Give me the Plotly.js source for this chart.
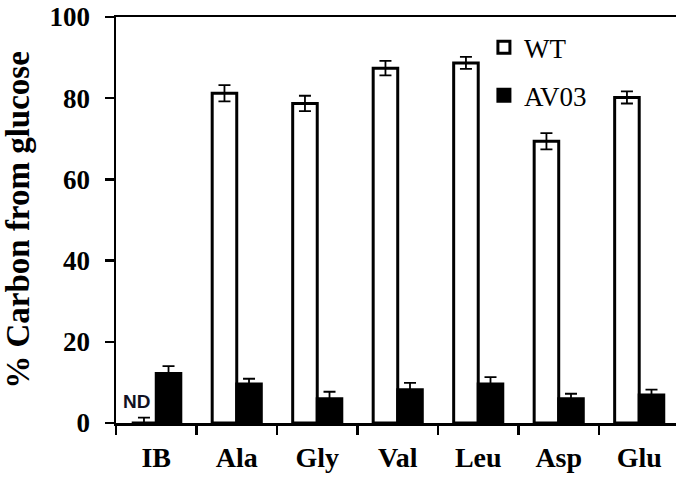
<!DOCTYPE html>
<html>
<head>
<meta charset="utf-8">
<script src="https://cdn.plot.ly/plotly-3.0.1.min.js"></script>
<style>html,body{margin:0;padding:0;background:#fff;}#chart{width:676px;height:477px;}</style>
</head>
<body>
<div id="chart"></div>
<script>
const categories = ["IB", "Ala", "Gly", "Val", "Leu", "Asp", "Glu"];
const wtValues = [0, 81.2, 78.7, 87.4, 88.7, 69.4, 80.2];
const wtErrors = [1.3, 2.0, 1.9, 1.8, 1.5, 2.0, 1.5];
const av03Values = [12.2, 9.6, 6.0, 8.2, 9.6, 6.0, 6.9];
const av03Errors = [1.8, 1.3, 1.7, 1.7, 1.7, 1.2, 1.3];
const yTicks = [0, 20, 40, 60, 80, 100];

const serif = "Liberation Serif";

const traces = [
  {
    type: "bar", name: "WT", x: categories, y: wtValues,
    legendgroup: "a",
    marker: {color: "#ffffff", line: {color: "#000000", width: 3}},
    error_y: {type: "data", array: wtErrors, visible: true, color: "#000000", thickness: 1.8, width: 6}
  },
  {
    type: "bar", name: "AV03", x: categories, y: av03Values,
    legendgroup: "b",
    marker: {color: "#000000", line: {color: "#000000", width: 3}},
    error_y: {type: "data", array: av03Errors, visible: true, color: "#000000", thickness: 1.8, width: 6}
  }
];

const layout = {
  width: 676, height: 477,
  margin: {l: 116, r: 0, t: 17, b: 54},
  paper_bgcolor: "#ffffff", plot_bgcolor: "#ffffff",
  font: {family: serif, color: "#000000"},
  barmode: "group", bargap: 0.39, bargroupgap: 0,
  showlegend: true,
  legend: {
    x: 0.657, y: 0.985, xanchor: "left", yanchor: "top",
    bgcolor: "rgba(0,0,0,0)", traceorder: "grouped", tracegroupgap: 10,
    font: {family: serif, size: 27, color: "#000000"}
  },
  xaxis: {
    type: "category", range: [-0.5, 6.457],
    showline: true, linecolor: "#000000", linewidth: 2.5, mirror: true,
    ticks: "outside", tickson: "boundaries", ticklen: 9, tickwidth: 2.5, tickcolor: "#000000",
    ticklabelstandoff: 8,
    showgrid: false, zeroline: false,
    tickfont: {family: serif, size: 28, color: "#000000", weight: "bold"}
  },
  yaxis: {
    range: [0, 100], tickvals: yTicks, ticktext: yTicks.map(String),
    showline: true, linecolor: "#000000", linewidth: 2.5,
    ticks: "outside", ticklen: 9, tickwidth: 2.5, tickcolor: "#000000",
    ticklabelstandoff: 9,
    showgrid: false, zeroline: false,
    tickfont: {family: serif, size: 27, color: "#000000", weight: "bold"},
    title: {text: "% Carbon from glucose", standoff: 10, font: {family: serif, size: 33, color: "#000000", weight: "bold"}}
  },
  annotations: [
    {
      text: "ND", xref: "x", yref: "y", x: -0.24, y: 0, yanchor: "bottom", yshift: 9,
      showarrow: false,
      font: {family: "Liberation Sans", size: 19, color: "#111122", weight: "bold"}
    }
  ]
};

Plotly.newPlot("chart", traces, layout, {displayModeBar: false, staticPlot: true});
</script>
</body>
</html>
